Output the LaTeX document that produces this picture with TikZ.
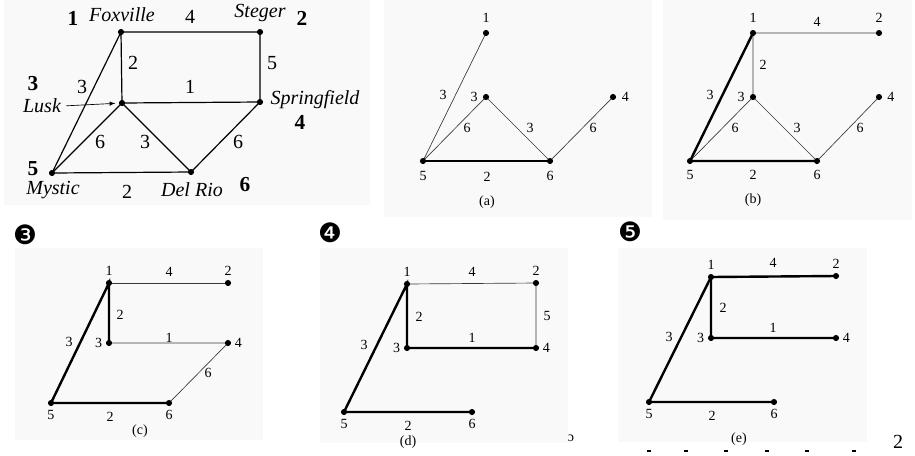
\documentclass[tikz,border=0pt]{standalone}
\usepackage{fontspec}
\setmainfont{Liberation Serif}
\newfontfamily\dejavu{DejaVu Sans}

\begin{document}
\begin{tikzpicture}[x=0.75pt, y=-0.75pt,
    arete/.style={gray!45!black, line width=0.5pt},
    arbre/.style={black, line width=1.8pt},
    lien/.style={black, line width=0.9pt},
    etiq/.style={font=\fontsize{10.5}{11}\selectfont, inner sep=1pt},
    ville/.style={font=\fontsize{15}{16}\selectfont\itshape, inner sep=1pt},
    num/.style={font=\fontsize{16}{17}\selectfont\bfseries, inner sep=1pt},
    val/.style={font=\fontsize{15}{16}\selectfont, inner sep=1pt},
    puce/.style={font=\dejavu\fontsize{20}{21}\selectfont, inner sep=0pt},
    fond/.style={fill=gray!5}]

    \useasboundingbox (0,0) rectangle (915,455);

    % Fonds des six cadres
    \fill[fond] (4,0) rectangle (370,205);
    \fill[fond] (384,0) rectangle (652,217);
    \fill[fond] (663,0) rectangle (912,220);
    \fill[fond] (15,248) rectangle (263,440);
    \fill[fond] (320,248) rectangle (568,443);
    \fill[fond] (618,248) rectangle (867,442);

    % ---------- Graphe de départ ----------
    \coordinate (G1) at (121, 32);
    \coordinate (G2) at (260, 32);
    \coordinate (G3) at (122,103);
    \coordinate (G4) at (260,102);
    \coordinate (G5) at ( 52,173);
    \coordinate (G6) at (191,172);

    \draw[lien] (G1) -- (G2) -- (G4) -- (G6) -- (G5) -- (G1) -- (G3) -- (G4);
    \draw[lien] (G5) -- (G3) -- (G6);

    \node[val] at (190, 17) {4};
    \node[val] at (133, 63) {2};
    \node[val] at (272, 63) {5};
    \node[val] at ( 82, 87) {3};
    \node[val] at (190, 87) {1};
    \node[val] at (100,142) {6};
    \node[val] at (145,142) {3};
    \node[val] at (238,142) {6};
    \node[val] at (127,192) {2};

    \node[ville] at (122, 15) {Foxville};
    \node[ville] at (260, 13) {Steger};
    \node[ville] (lusk) at (42,106) {Lusk};
    \node[ville] at (315,100) {Springfield};
    \node[ville] at ( 53,190) {Mystic};
    \node[ville] at (192,190) {Del Rio};
    \draw[black, line width=0.5pt, -latex, shorten <=3pt, shorten >=5pt] (lusk.east) -- (G3);

    \node[num] at ( 73, 18) {1};
    \node[num] at (302, 18) {2};
    \node[num] at ( 33, 84) {3};
    \node[num] at (300,122) {4};
    \node[num] at ( 33,169) {5};
    \node[num] at (245,185) {6};

    \foreach \s in {G1,G2,G3,G4,G5,G6}
        \fill (\s) circle (2.3pt);

    % ---------- (a) ----------
    \coordinate (A1) at (486, 33);
    \coordinate (A3) at (486, 97);
    \coordinate (A4) at (613, 97);
    \coordinate (A5) at (423,161);
    \coordinate (A6) at (550,161);

    \draw[arete] (A1) -- (A5) -- (A3) -- (A6) -- (A4);
    \draw[arbre] (A5) -- (A6);

    \node[etiq] at (443, 95) {3};
    \node[etiq] at (467,128) {6};
    \node[etiq] at (530,128) {3};
    \node[etiq] at (593,128) {6};
    \node[etiq] at (487,177) {2};
    \node[etiq] at (487,202) {(a)};

    \fill (A1) circle (2.3pt) node[etiq, above=6.5pt] {1};
    \fill (A3) circle (2.3pt) node[etiq, left=5pt] {3};
    \fill (A4) circle (2.3pt) node[etiq, right=5.5pt] {4};
    \fill (A5) circle (2.3pt) node[etiq, below=6.5pt] {5};
    \fill (A6) circle (2.3pt) node[etiq, below=6.5pt] {6};

    % ---------- (b) ----------
    \coordinate (B1) at (753, 33);
    \coordinate (B2) at (879, 33);
    \coordinate (B3) at (753, 97);
    \coordinate (B4) at (879, 97);
    \coordinate (B5) at (690,161);
    \coordinate (B6) at (817,161);

    \draw[arete] (B2) -- (B1) -- (B3) -- (B5);
    \draw[arete] (B3) -- (B6) -- (B4);
    \draw[arbre] (B1) -- (B5) -- (B6);

    \node[etiq] at (817, 22) {4};
    \node[etiq] at (763, 65) {2};
    \node[etiq] at (710, 95) {3};
    \node[etiq] at (735,128) {6};
    \node[etiq] at (797,128) {3};
    \node[etiq] at (860,128) {6};
    \node[etiq] at (753,175) {2};
    \node[etiq] at (753,200) {(b)};

    \fill (B1) circle (2.3pt) node[etiq, above=6.5pt] {1};
    \fill (B2) circle (2.3pt) node[etiq, above=6.5pt] {2};
    \fill (B3) circle (2.3pt) node[etiq, left=5pt] {3};
    \fill (B4) circle (2.3pt) node[etiq, right=5pt] {4};
    \fill (B5) circle (2.3pt) node[etiq, below=5.5pt] {5};
    \fill (B6) circle (2.3pt) node[etiq, below=5.5pt] {6};

    % ---------- (c) ----------
    \node[puce] at (25,235) {❸};
    \coordinate (C1) at (109,283);
    \coordinate (C2) at (228,283);
    \coordinate (C3) at (109,343);
    \coordinate (C4) at (228,343);
    \coordinate (C5) at ( 51,403);
    \coordinate (C6) at (169,403);

    \draw[arete] (C1) -- (C2);
    \draw[arete] (C3) -- (C4) -- (C6);
    \draw[arbre] (C3) -- (C1) -- (C5) -- (C6);

    \node[etiq] at (169,272) {4};
    \node[etiq] at (120,315) {2};
    \node[etiq] at ( 69,342) {3};
    \node[etiq] at (169,338) {1};
    \node[etiq] at (208,373) {6};
    \node[etiq] at (110,417) {2};
    \node[etiq] at (140,431) {(c)};

    \fill (C1) circle (2.3pt) node[etiq, above=4.5pt] {1};
    \fill (C2) circle (2.3pt) node[etiq, above=4.5pt] {2};
    \fill (C3) circle (2.3pt) node[etiq, left=4pt] {3};
    \fill (C4) circle (2.3pt) node[etiq, right=4pt] {4};
    \fill (C5) circle (2.3pt) node[etiq, below=4.5pt] {5};
    \fill (C6) circle (2.3pt) node[etiq, below=4.5pt] {6};

    % ---------- (d) ----------
    \node[puce] at (330,233) {❹};
    \coordinate (D1) at (407,284);
    \coordinate (D2) at (536,283);
    \coordinate (D3) at (407,348);
    \coordinate (D4) at (536,348);
    \coordinate (D5) at (344,412);
    \coordinate (D6) at (472,412);

    \draw[arete] (D1) -- (D2) -- (D4);
    \draw[arbre] (D4) -- (D3) -- (D1) -- (D5) -- (D6);

    \node[etiq] at (472,272) {4};
    \node[etiq] at (419,317) {2};
    \node[etiq] at (547,316) {5};
    \node[etiq] at (364,345) {3};
    \node[etiq] at (472,338) {1};
    \node[etiq] at (408,426) {2};
    \node[etiq] at (408,442) {(d)};
    \node[etiq] at (571,438) {ɔ};

    \fill (D1) circle (2.3pt) node[etiq, above=4.5pt] {1};
    \fill (D2) circle (2.3pt) node[etiq, above=4.5pt] {2};
    \fill (D3) circle (2.3pt) node[etiq, left=4pt] {3};
    \fill (D4) circle (2.3pt) node[etiq, right=4pt] {4};
    \fill (D5) circle (2.3pt) node[etiq, below=4pt] {5};
    \fill (D6) circle (2.3pt) node[etiq, below=4pt] {6};

    % ---------- (e) ----------
    \node[puce] at (630,232) {❺};
    \coordinate (E1) at (711,277);
    \coordinate (E2) at (836,276);
    \coordinate (E3) at (711,338);
    \coordinate (E4) at (836,338);
    \coordinate (E5) at (649,402);
    \coordinate (E6) at (774,402);

    \draw[arbre] (E2) -- (E1) -- (E3) -- (E4);
    \draw[arbre] (E1) -- (E5) -- (E6);

    \node[etiq] at (773,263) {4};
    \node[etiq] at (723,308) {2};
    \node[etiq] at (669,337) {3};
    \node[etiq] at (773,328) {1};
    \node[etiq] at (712,416) {2};
    \node[etiq] at (739,439) {(e)};

    \fill (E1) circle (2.3pt) node[etiq, above=4.5pt] {1};
    \fill (E2) circle (2.3pt) node[etiq, above=4.5pt] {2};
    \fill (E3) circle (2.3pt) node[etiq, left=4pt] {3};
    \fill (E4) circle (2.3pt) node[etiq, right=4pt] {4};
    \fill (E5) circle (2.3pt) node[etiq, below=4.5pt] {5};
    \fill (E6) circle (2.3pt) node[etiq, below=4.5pt] {6};

    % Restes de la page
    \foreach \x in {649,686,726,767,807,854}
        \fill[black] (\x-2,450) rectangle (\x+2,451.5);
    \node[val] at (898,442) {2};
\end{tikzpicture}
\end{document}
